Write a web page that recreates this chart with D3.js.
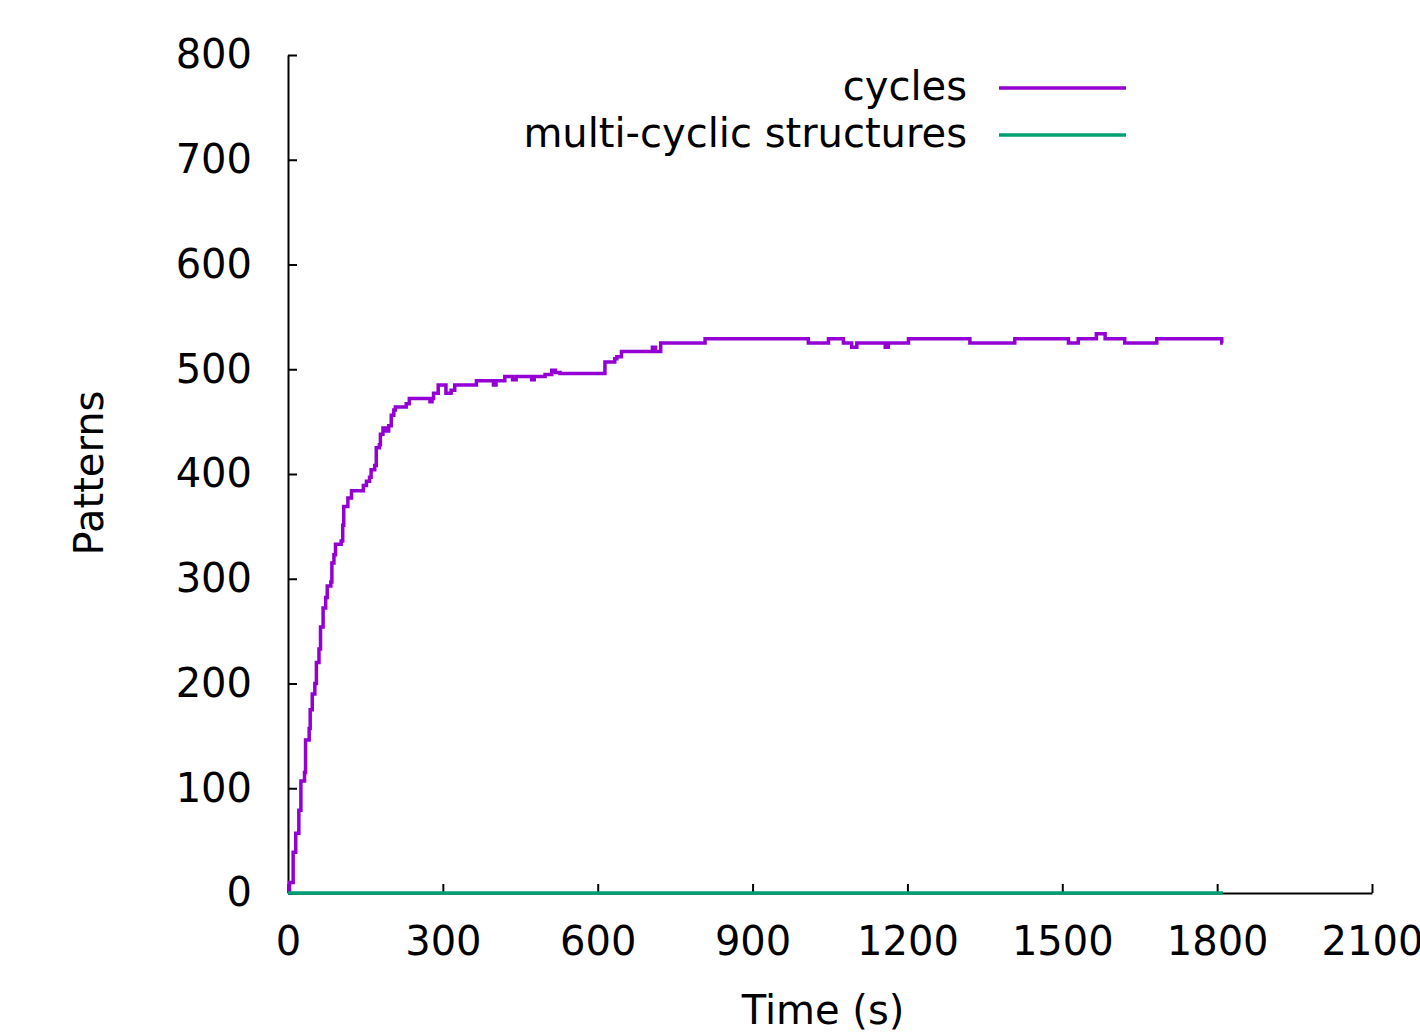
<!DOCTYPE html>
<html>
<head>
<meta charset="utf-8">
<script src="https://cdn.jsdelivr.net/npm/d3@7"></script>
<style>
  html, body { margin: 0; padding: 0; background: #fff; }
  text { font-family: "DejaVu Sans", sans-serif; fill: #000; }
</style>
</head>
<body>
<div id="chart"></div>
<script>
// Données (temps en s, nombre de motifs)
const cycleTimes = [0, 3, 10, 15, 21, 25, 32, 34, 41, 43, 47, 52, 55, 60, 63, 68, 73, 76, 83, 85,
  89, 92, 103, 106, 108, 116, 123, 146, 152, 158, 161, 168, 171, 177, 179, 184, 190, 195, 200, 205,
  208, 229, 235, 272, 275, 279, 282, 291, 306, 316, 323, 362, 365, 398, 403, 420, 435, 442, 472, 477,
  498, 511, 518, 527, 614, 633, 637, 646, 706, 712, 722, 808, 1008, 1047, 1076, 1092, 1102, 1157, 1163, 1202,
  1321, 1408, 1512, 1531, 1566, 1583, 1621, 1683, 1809, 1811];
const cycleValues = [0, 10, 39, 57, 79, 107, 115, 146, 157, 175, 190, 200, 220, 233, 254, 272, 282, 293, 297, 315,
  323, 333, 336, 351, 369, 377, 384, 389, 393, 397, 404, 408, 425, 428, 438, 444, 441, 446, 456, 461,
  464, 467, 472, 472, 469, 472, 477, 485, 477, 480, 485, 485, 489, 485, 489, 493, 490, 493, 490, 493,
  495, 499, 497, 496, 507, 510, 512, 517, 521, 517, 525, 529, 525, 529, 525, 521, 525, 521, 525, 529,
  525, 529, 525, 529, 534, 529, 525, 529, 525, 525];

const multiTimes = [0, 1811];
const multiValues = [0, 0];

const xTicks = [0, 300, 600, 900, 1200, 1500, 1800, 2100];
const yTicks = [0, 100, 200, 300, 400, 500, 600, 700, 800];

const seriesNames = ['cycles', 'multi-cyclic structures'];
const seriesColors = ['#9400d3', '#009e73'];

const width = 1420, height = 1036;
const fontSize = '40px';

const svg = d3.select('#chart')
  .append('svg')
  .attr('width', width)
  .attr('height', height);

const x = d3.scaleLinear().domain([0, 2100]).range([288, 1372]);
const y = d3.scaleLinear().domain([0, 800]).range([893, 55]);

// Axes (graduations vers l'intérieur, style gnuplot)
const xAxis = svg.append('g')
  .attr('transform', `translate(0,${y(0)})`)
  .call(d3.axisBottom(x).tickValues(xTicks).tickFormat(d3.format('d'))
    .tickSizeInner(-9).tickSizeOuter(0).tickPadding(34));

const yAxis = svg.append('g')
  .attr('transform', `translate(${x(0)},0)`)
  .call(d3.axisLeft(y).tickValues(yTicks).tickFormat(d3.format('d'))
    .tickSizeInner(-9).tickSizeOuter(0).tickPadding(36));

[xAxis, yAxis].forEach(a => {
  a.selectAll('path, line').attr('stroke', '#000').attr('stroke-width', 2);
  a.selectAll('text').attr('font-size', fontSize).attr('font-family', '"DejaVu Sans", sans-serif').attr('fill', '#000');
});

// Séries
const line = d3.line()
  .x(d => x(d[0]))
  .y(d => y(d[1]))
  .curve(d3.curveStepAfter);

const cycles = cycleTimes.map((t, i) => [t, cycleValues[i]]);
const multi = multiTimes.map((t, i) => [t, multiValues[i]]);

svg.append('path')
  .datum(cycles)
  .attr('d', line)
  .attr('fill', 'none')
  .attr('stroke', seriesColors[0])
  .attr('stroke-width', 3.5);

svg.append('path')
  .datum(multi)
  .attr('d', line)
  .attr('fill', 'none')
  .attr('stroke', seriesColors[1])
  .attr('stroke-width', 3.5);

// Titres des axes
svg.append('text')
  .attr('transform', 'translate(103,473) rotate(-90)')
  .attr('text-anchor', 'middle')
  .attr('font-size', fontSize)
  .text('Patterns');

svg.append('text')
  .attr('x', 823)
  .attr('y', 1024)
  .attr('text-anchor', 'middle')
  .attr('font-size', fontSize)
  .text('Time (s)');

// Légende
const legend = svg.selectAll('.legend')
  .data(seriesNames)
  .enter()
  .append('g')
  .attr('class', 'legend')
  .attr('transform', (d, i) => `translate(0,${88 + i * 47})`);

legend.append('text')
  .attr('x', 967)
  .attr('y', 12)
  .attr('text-anchor', 'end')
  .attr('font-size', fontSize)
  .text(d => d);

legend.append('line')
  .attr('x1', 999)
  .attr('x2', 1126)
  .attr('y1', 0)
  .attr('y2', 0)
  .attr('stroke', (d, i) => seriesColors[i])
  .attr('stroke-width', 3.5);
</script>
</body>
</html>
